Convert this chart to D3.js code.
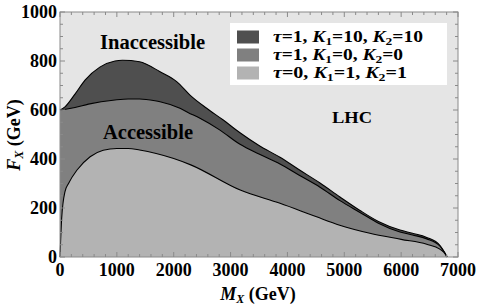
<!DOCTYPE html>
<html><head><meta charset="utf-8">
<script src="https://cdn.jsdelivr.net/npm/d3@7"></script>
<style>
body{margin:0;background:#fff;}
</style></head>
<body><svg id="c" width="478" height="305" font-family="'Liberation Serif', 'Times New Roman', Times, serif" font-weight="bold"></svg>
<script>
// Data (M_X in GeV, F_X in GeV)
const darkM = [0, 88, 264, 440, 700, 967, 1100, 1400, 1760, 2052, 2286, 2580, 2872, 3166, 3500, 3869, 4200, 4573, 4924, 5276, 5600, 5980, 6200, 6450, 6683, 6812];
const darkF = [600, 613, 665, 722, 775, 800, 803, 797, 756, 716, 661, 607, 559, 507, 455, 407, 357, 302, 245, 190, 145, 110, 97, 80, 47, 0];
const medM = [0, 88, 264, 500, 967, 1200, 1400, 1670, 1760, 2110, 2250, 2462, 2814, 3166, 3500, 3869, 4200, 4573, 4924, 5276, 5600, 5980, 6200, 6450, 6683, 6810];
const medF = [600, 603, 610, 624, 641, 645, 645, 638, 634, 607, 590, 566, 518, 460, 420, 380, 335, 285, 230, 182, 138, 102, 90, 74, 44, 0];
const lightM = [0, 30, 88, 150, 300, 530, 760, 1000, 1200, 1400, 2000, 2300, 3170, 3870, 4500, 4920, 5450, 6000, 6450, 6680, 6780, 6800];
const lightF = [0, 160, 267, 300, 355, 409, 436, 443, 443, 437, 402, 376, 273, 219, 165, 130, 97, 72, 52, 32, 10, 0];
const xTicks = [0, 1000, 2000, 3000, 4000, 5000, 6000, 7000];
const yTicks = [0, 200, 400, 600, 800, 1000];
const legendLabels = [
  [["τ",1],["=1, ",0],["K",1],["1",2],["=10, ",0],["K",1],["2",2],["=10",0]],
  [["τ",1],["=1, ",0],["K",1],["1",2],["=0, ",0],["K",1],["2",2],["=0",0]],
  [["τ",1],["=0, ",0],["K",1],["1",2],["=1, ",0],["K",1],["2",2],["=1",0]]
];
const legendWidths = [150, 130, 134];
const fills = ["#4f4f4f", "#808080", "#b3b3b3"];

const svg = d3.select("#c");
const L = 60, R = 458, T = 12, B = 257;
const x = d3.scaleLinear().domain([0, 7000]).range([L, R]);
const y = d3.scaleLinear().domain([0, 1000]).range([B, T]);

svg.append("rect").attr("x", L).attr("y", T).attr("width", R - L).attr("height", B - T).attr("fill", "#e5e5e5");

const series = [[darkM, darkF], [medM, medF], [lightM, lightF]];
series.forEach(([ms, fs], i) => {
  const pts = ms.map((m, j) => [m, fs[j]]);
  const area = d3.area().x(d => x(d[0])).y0(y(0)).y1(d => y(d[1])).curve(d3.curveMonotoneX);
  const line = d3.line().x(d => x(d[0])).y(d => y(d[1])).curve(d3.curveMonotoneX);
  svg.append("path").attr("d", area(pts)).attr("fill", fills[i]);
  svg.append("path").attr("d", line(pts)).attr("fill", "none").attr("stroke", "#000").attr("stroke-width", 1.1);
});

// frame and ticks
const g = svg.append("g").attr("stroke", "#8a8a8a").attr("stroke-width", 1);
g.append("rect").attr("x", L).attr("y", T).attr("width", R - L).attr("height", B - T).attr("fill", "none");
d3.range(0, 7001, 200).forEach(v => {
  const len = v % 1000 === 0 ? 5 : 3;
  g.append("line").attr("x1", x(v)).attr("x2", x(v)).attr("y1", B).attr("y2", B - len);
  g.append("line").attr("x1", x(v)).attr("x2", x(v)).attr("y1", T).attr("y2", T + len);
});
d3.range(0, 1001, 50).forEach(v => {
  const len = v % 200 === 0 ? 5 : 3;
  g.append("line").attr("y1", y(v)).attr("y2", y(v)).attr("x1", L).attr("x2", L + len);
  g.append("line").attr("y1", y(v)).attr("y2", y(v)).attr("x1", R).attr("x2", R - len);
});

// tick labels
svg.selectAll(".xt").data(xTicks).enter().append("text")
  .attr("x", d => x(d)).attr("y", 276).attr("text-anchor", "middle")
  .attr("font-size", 18).text(d => d);
svg.selectAll(".yt").data(yTicks).enter().append("text")
  .attr("x", 57).attr("y", d => y(d) + 6).attr("text-anchor", "end")
  .attr("font-size", 18).text(d => d);

// axis titles
const xt = svg.append("text").attr("x", 258).attr("y", 300).attr("text-anchor", "middle").attr("font-size", 18);
xt.append("tspan").attr("font-style", "italic").text("M");
xt.append("tspan").attr("font-style", "italic").attr("font-size", 12).attr("dy", 3).text("X");
xt.append("tspan").attr("dy", -3).text(" (GeV)");
const yt = svg.append("text").attr("transform", "translate(20,135) rotate(-90)").attr("text-anchor", "middle").attr("font-size", 18);
yt.append("tspan").attr("font-style", "italic").text("F");
yt.append("tspan").attr("font-style", "italic").attr("font-size", 12).attr("dy", 3).text("X");
yt.append("tspan").attr("dy", -3).text(" (GeV)");

// region labels
svg.append("text").attr("x", 100).attr("y", 49).attr("font-size", 20)
  .attr("textLength", 105).attr("lengthAdjust", "spacingAndGlyphs").text("Inaccessible");
svg.append("text").attr("x", 103).attr("y", 139).attr("font-size", 20)
  .attr("textLength", 90).attr("lengthAdjust", "spacingAndGlyphs").text("Accessible");
svg.append("text").attr("x", 332).attr("y", 123).attr("font-size", 16)
  .attr("textLength", 40).attr("lengthAdjust", "spacingAndGlyphs").text("LHC");

// legend
svg.append("rect").attr("x", 230).attr("y", 23).attr("width", 217).attr("height", 62).attr("fill", "#fff");
legendLabels.forEach((parts, i) => {
  const cy = 37 + i * 18;
  svg.append("rect").attr("x", 237).attr("y", cy - 6.5).attr("width", 22).attr("height", 13).attr("fill", fills[i]);
  const t = svg.append("text").attr("x", 273).attr("y", cy + 5).attr("font-size", 16)
    .attr("textLength", legendWidths[i]).attr("lengthAdjust", "spacingAndGlyphs");
  let shifted = false;
  parts.forEach(([s, k]) => {
    const sp = t.append("tspan").text(s);
    if (k === 1) sp.attr("font-style", "italic");
    if (k === 2) { sp.attr("font-size", 11).attr("dy", shifted ? 0 : 3); shifted = true; }
    else if (shifted) { sp.attr("dy", -3); shifted = false; }
  });
});
</script></body></html>
